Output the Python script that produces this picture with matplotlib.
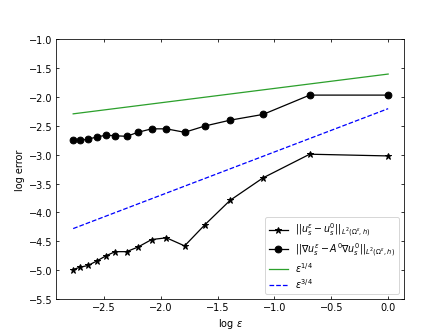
import matplotlib
matplotlib.use("Agg")
import matplotlib.pyplot as plt

# log epsilon
log_eps = [-2.77, -2.71, -2.64, -2.56, -2.48, -2.40, -2.30, -2.20,
           -2.08, -1.95, -1.79, -1.61, -1.39, -1.10, -0.69, 0.0]
# L2 error of u
err_u = [-4.99, -4.95, -4.92, -4.84, -4.75, -4.68, -4.68, -4.60,
         -4.47, -4.44, -4.58, -4.21, -3.79, -3.40, -2.99, -3.02]
# L2 error of gradient
err_grad = [-2.75, -2.75, -2.73, -2.69, -2.66, -2.67, -2.68, -2.61,
            -2.55, -2.55, -2.61, -2.50, -2.40, -2.30, -1.965, -1.965]
# reference slopes (end points)
ref_x = [-2.77, 0.0]
ref_quarter = [-2.29, -1.60]
ref_three_quarter = [-4.28, -2.20]

plt.rcParams["xtick.direction"] = "in"
plt.rcParams["ytick.direction"] = "in"
plt.rcParams["xtick.top"] = True
plt.rcParams["ytick.right"] = True

fig, ax = plt.subplots(figsize=(6.414, 4.814), dpi=70)

ax.plot(log_eps, err_u, "k-*", markersize=7, linewidth=1.3,
        label=r"$||u_s^\varepsilon - u_s^0||_{L^2(\Omega^\varepsilon,h)}$")
ax.plot(log_eps, err_grad, "k-o", markersize=7, linewidth=1.3,
        label=r"$||\nabla u_s^\varepsilon - A^0\nabla u_s^0||_{L^2(\Omega^\varepsilon,h)}$")
ax.plot(ref_x, ref_quarter, color="#2ca02c", linewidth=1.3,
        label=r"$\varepsilon^{1/4}$")
ax.plot(ref_x, ref_three_quarter, "b--", linewidth=1.3,
        label=r"$\varepsilon^{3/4}$")

ax.set_xlim(-2.92, 0.14)
ax.set_ylim(-5.5, -1.0)
ax.set_xlabel(r"$\log\,\varepsilon$")
ax.set_ylabel("log error")
ax.legend(loc="lower right", fontsize=9.8, labelspacing=0.25)

fig.savefig("out.png", dpi=70)
